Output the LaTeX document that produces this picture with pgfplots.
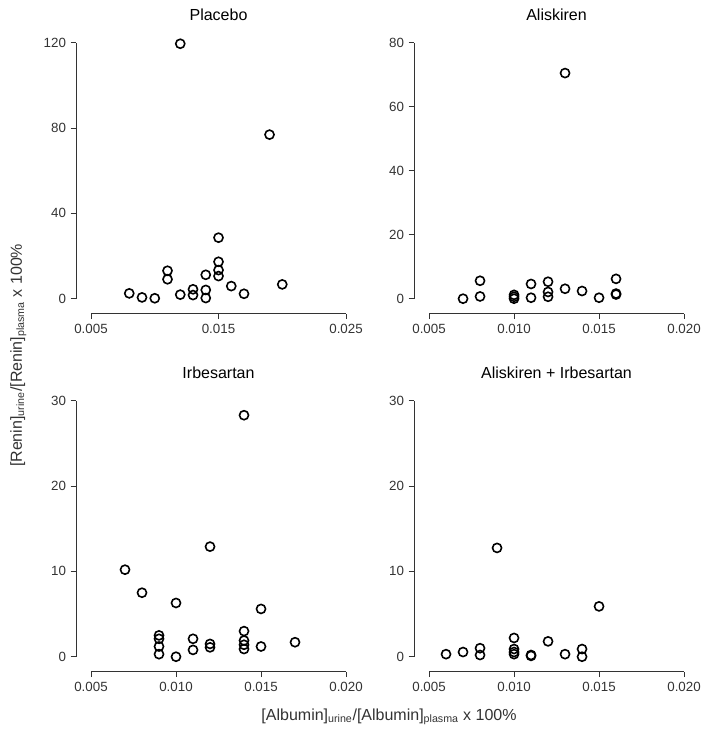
\documentclass[border=0pt]{standalone}
\usepackage{fontspec}
\setmainfont{Liberation Sans}
\usepackage{pgfplots}
\pgfplotsset{compat=1.18}

\pgfplotstableread{
x y
0.012 119.5
0.019 76.9
0.015 28.6
0.015 17.3
0.015 13.4
0.015 10.6
0.011 13.1
0.011 9.1
0.014 11.2
0.008 2.5
0.009 0.6
0.010 0.2
0.012 1.9
0.013 4.4
0.013 1.7
0.014 4.1
0.014 0.3
0.016 5.9
0.017 2.3
0.020 6.7
}\placebo

\pgfplotstableread{
x y
0.013 70.5
0.008 5.6
0.008 0.7
0.007 0.0
0.010 1.2
0.010 0.6
0.010 0.0
0.011 4.6
0.011 0.3
0.012 5.3
0.012 2.1
0.012 0.6
0.013 3.1
0.014 2.4
0.015 0.3
0.016 6.2
0.016 1.6
0.016 1.3
}\aliskiren

\pgfplotstableread{
x y
0.014 28.3
0.012 12.9
0.007 10.2
0.008 7.5
0.010 6.3
0.015 5.6
0.009 2.5
0.009 2.1
0.009 1.2
0.009 0.3
0.010 0.0
0.011 2.1
0.011 0.8
0.012 1.5
0.012 1.1
0.014 3.0
0.014 1.9
0.014 1.4
0.014 0.9
0.015 1.2
0.017 1.7
}\irbesartan

\pgfplotstableread{
x y
0.009 12.75
0.015 5.9
0.010 2.2
0.010 0.9
0.010 0.55
0.010 0.3
0.012 1.8
0.006 0.3
0.007 0.55
0.008 1.0
0.008 0.2
0.011 0.2
0.011 0.1
0.013 0.3
0.014 0.9
0.014 0.0
}\combo

\definecolor{axgray}{HTML}{333333}

\pgfplotsset{
  rpanel/.style={
    width=191.25pt, height=192pt, scale only axis,
    axis x line*=bottom, axis y line*=left,
    axis x line shift=11.25pt, axis y line shift=11.25pt,
    clip=false,
    xmin=0.005, xmax=0.020,
    xtick={0.005,0.010,0.015,0.020},
    ymin=0,
    tick align=outside, major tick length=4pt,
    tick style={axgray, line width=0.6pt},
    axis line style={axgray, line width=0.6pt, -},
    ticklabel style={font=\fontsize{10}{12}\selectfont, text=axgray},
    /pgf/number format/assume math mode=true,
    scaled x ticks=false,
    xticklabel style={/pgf/number format/fixed, /pgf/number format/precision=3, /pgf/number format/fixed zerofill},
    title style={font=\fontsize{12}{14}\selectfont, at={(0.5,1)}, anchor=base, yshift=11pt, inner sep=0pt},
  },
  rpts/.style={only marks, mark=o, mark size=3.4pt, mark options={line width=1.2pt, draw=black}},
}

\begin{document}
\begin{tikzpicture}
\useasboundingbox (-68.25pt,-60.2pt) rectangle (457.5pt,492.5pt);
\begin{axis}[rpanel, at={(0pt,268.5pt)}, title={Placebo},
  xmax=0.025, xtick={0.005,0.015,0.025}, ymax=120, ytick={0,40,80,120}]
  \addplot[rpts] table {\placebo};
\end{axis}
\begin{axis}[rpanel, at={(253.5pt,268.5pt)}, title={Aliskiren},
  ymax=80, ytick={0,20,40,60,80}]
  \addplot[rpts] table {\aliskiren};
\end{axis}
\begin{axis}[rpanel, at={(0pt,0pt)}, title={Irbesartan},
  ymax=30, ytick={0,10,20,30}]
  \addplot[rpts] table {\irbesartan};
\end{axis}
\begin{axis}[rpanel, at={(253.5pt,0pt)}, title={Aliskiren + Irbesartan},
  ymax=30, ytick={0,10,20,30}]
  \addplot[rpts] table {\combo};
\end{axis}
\node[rotate=90, font=\fontsize{12}{14}\selectfont, text=axgray] at (-54.5pt,226pt)
  {[Renin]\textsubscript{urine}/[Renin]\textsubscript{plasma} x 100\%};
\node[font=\fontsize{12}{14}\selectfont, text=axgray] at (223.5pt,-45pt)
  {[Albumin]\textsubscript{urine}/[Albumin]\textsubscript{plasma} x 100\%};
\end{tikzpicture}
\end{document}
